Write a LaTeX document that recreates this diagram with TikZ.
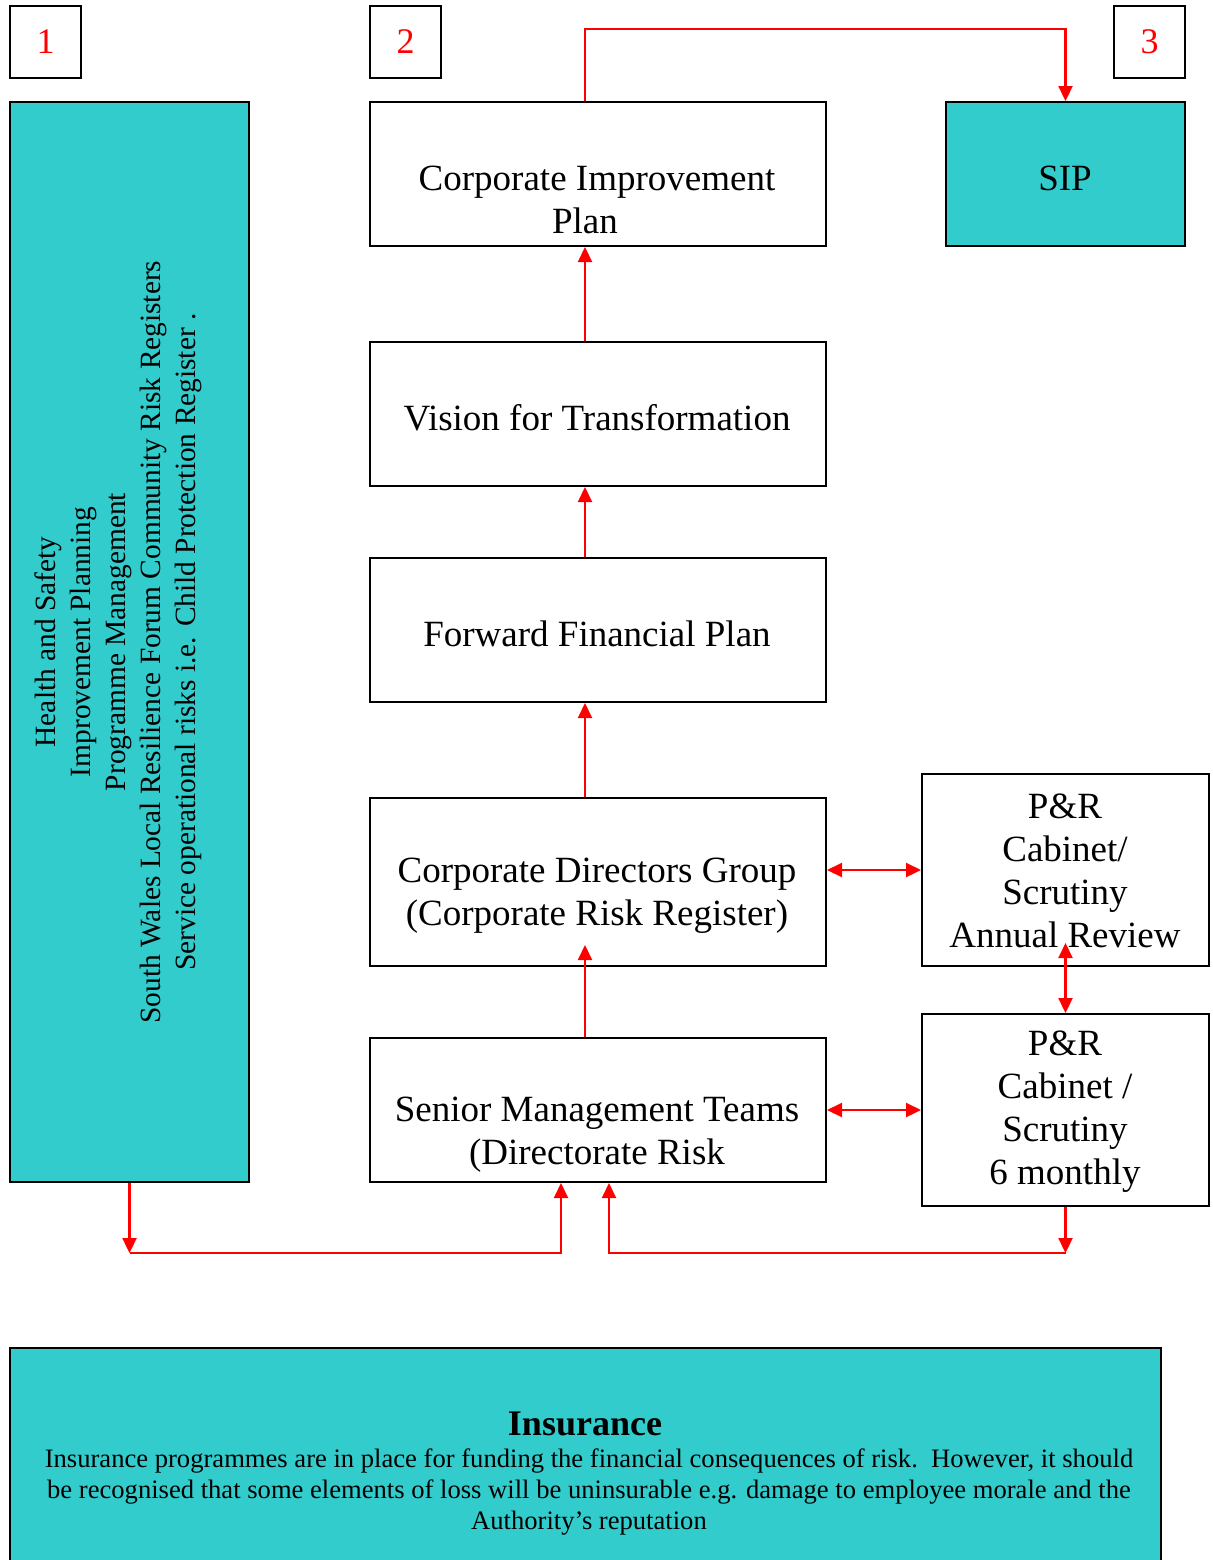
\documentclass[tikz,border=0pt]{standalone}
\usepackage{fontspec}
\setmainfont{Liberation Serif}
\usetikzlibrary{positioning,arrows.meta}
\definecolor{teal}{RGB}{51,204,204}

\begin{document}
\begin{tikzpicture}[x=0.5pt,y=-0.5pt,
  box/.style={draw, line width=1pt, inner sep=0pt},
  numbox/.style={box, minimum width=35.5pt, minimum height=36pt, text=red, font=\fontsize{18}{21}\selectfont},
  txt/.style={inner sep=0pt, align=center, font=\fontsize{18.5}{21.5}\selectfont},
  link/.style={red, line width=1.1pt, -{Triangle[length=7.5pt,width=7pt]}},
  twoway/.style={link, {Triangle[length=7.5pt,width=7pt]}-{Triangle[length=7.5pt,width=7pt]}}]
\useasboundingbox (0,0) rectangle (1212,1560);
\clip (0,0) rectangle (1212,1560);

% numbered tags
\node[numbox] (tag1) at (45.5,42) {1};
\node[numbox] (tag2) at (405.5,42) {2};
\node[numbox] (tag3) at (1149.5,42) {3};

% left register box
\node[box, fill=teal, minimum width=119.5pt, minimum height=540pt] (reg) at (129.5,642) {};
\node[inner sep=0pt, align=center, rotate=90, font=\fontsize{14.7}{17.5}\selectfont] (regt) at (118,642)
  {Health and Safety\\Improvement Planning\\Programme Management\\South Wales Local Resilience Forum Community Risk Registers\\Service operational risks i.e. Child Protection Register .};

% main column
\node[box, minimum width=228pt, minimum height=72pt] (cip) at (598,174) {};
\node[txt] (cipt) at (597,200) {Corporate Improvement\\\hspace*{-12pt}Plan};
\node[box, fill=teal, minimum width=119.5pt, minimum height=72pt] (sip) at (1065.5,174) {};
\node[txt] (sipt) at (1065,178) {SIP};
\node[box, minimum width=228pt, minimum height=72pt] (vft) at (598,414) {};
\node[txt] (vftt) at (597,418) {Vision for Transformation};
\node[box, minimum width=228pt, minimum height=72pt] (ffp) at (598,630) {};
\node[txt] (ffpt) at (597,634) {Forward Financial Plan};
\node[box, minimum width=228pt, minimum height=84pt] (cdg) at (598,882) {};
\node[txt] (cdgt) at (597,896) {Corporate Directors Group\\(Corporate Risk Register)};
\node[box, minimum width=228pt, minimum height=72pt] (smt) at (598,1110) {};
\node[txt] (smtt) at (597,1135) {Senior Management Teams\\(Directorate Risk};

% P&R boxes
\node[box, minimum width=143.5pt, minimum height=96pt] (pra) at (1065.5,870) {};
\node[txt] (prat) at (1065,871) {P\&R\\Cabinet/\\Scrutiny\\Annual Review};
\node[box, minimum width=143.5pt, minimum height=96pt] (prb) at (1065.5,1110) {};
\node[txt] (prbt) at (1065,1112) {P\&R\\Cabinet /\\Scrutiny\\6 monthly};

% insurance
\node[box, fill=teal, minimum width=575.5pt, minimum height=111pt] (ins) at (585.5,1459) {};
\node[inner sep=0pt, font=\bfseries\fontsize{18}{21}\selectfont] (inst) at (585,1424) {Insurance};
\node[inner sep=0pt, align=center, font=\fontsize{13.3}{15.5}\selectfont] (insb) at (589,1492)
  {Insurance programmes are in place for funding the financial consequences of risk.\ \ However, it should\\be recognised that some elements of loss will be uninsurable e.g. damage to employee morale and the\\Authority's reputation};

% connectors
\coordinate (spine) at (585,0);
\coordinate (busL) at (129.5,1253);
\coordinate (busR) at (1065.5,1253);
\draw[link] (cip.north -| spine) -- ++(0,-72) -| (sip.north);
\draw[link] (vft.north -| spine) -- (cip.south -| spine);
\draw[link] (ffp.north -| spine) -- (vft.south -| spine);
\draw[link] (cdg.north -| spine) -- (ffp.south -| spine);
\draw[link] (smt.north -| spine) -- ([yshift=11pt]cdg.south -| spine);
\draw[twoway] (cdg.east |- pra.west) -- (pra.west);
\draw[twoway] (smt.east) -- (prb.west);
\draw[twoway] (prb.north) -- ++(0,-70);
\draw[link] (reg.south) -- (busL);
\draw[link] (busL) -| ([xshift=-18.5pt]smt.south);
\draw[link] (prb.south) -- (busR);
\draw[link] (busR) -| ([xshift=5.5pt]smt.south);

\end{tikzpicture}
\end{document}
